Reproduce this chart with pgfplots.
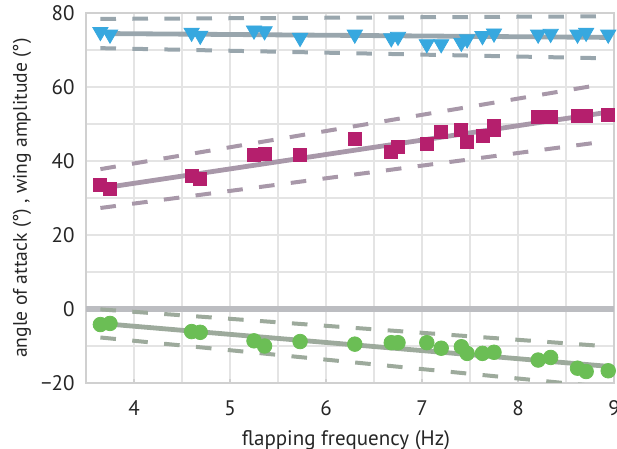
\documentclass[border=0pt]{standalone}
\usepackage{fontspec}
\setmainfont{PT Sans}
\usepackage{pgfplots}
\pgfplotsset{compat=1.18}

\definecolor{tri}{HTML}{37A8DF}
\definecolor{triline}{HTML}{99A6AD}
\definecolor{sq}{HTML}{B51F6D}
\definecolor{sqline}{HTML}{A898A9}
\definecolor{dot}{HTML}{6BBE55}
\definecolor{dotline}{HTML}{9DAA9C}
\definecolor{zeroline}{HTML}{BCBDC1}
\definecolor{gridc}{HTML}{E4E4E4}
\definecolor{framec}{HTML}{D0D0D0}

\begin{document}
\begin{tikzpicture}
\begin{axis}[
    at={(0,0)}, anchor=south west,
    scale only axis,
    width=264pt, height=185pt,
    xmin=3.5, xmax=9,
    ymin=-20, ymax=80,
    xtick={4,5,6,7,8,9},
    xticklabels={4,5,6,7,8,9},
    ytick={-20,0,20,40,60,80},
    yticklabels={−20,0,20,40,60,80},
    minor x tick num=1,
    minor y tick num=1,
    grid=both,
    major grid style={gridc, line width=0.7pt},
    minor grid style={gridc, line width=0.7pt},
    axis line style={framec, line width=0.7pt},
    tick align=inside,
    xtick pos=bottom,
    ytick pos=left,
    major tick length=2pt,
    minor tick length=0pt,
    tick style={framec, line width=0.7pt},
    ytick style={draw=none},
    ticklabel style={font=\fontsize{10.5}{12}\selectfont, text=black!85, inner sep=0pt},
    xticklabel style={anchor=base, yshift=-16.5pt},
    yticklabel style={anchor=east, xshift=-5.5pt},
    xlabel={flapping frequency (Hz)},
    ylabel={angle of attack (°) , wing amplitude (°)},
    xlabel style={font=\fontsize{10.5}{12}\selectfont, text=black!85,
        at={(axis description cs:0.5,0)}, anchor=center, yshift=-28.5pt, xshift=-2pt},
    ylabel style={font=\fontsize{9.8}{12}\selectfont, text=black!85,
        at={(axis description cs:-0.121,0.5)}, anchor=center},
]
% zero reference
\addplot[zeroline, line width=2.8pt] coordinates {(3.5,0) (9,0)};

% bounds (dashed)
\addplot[triline, line width=2pt, dash pattern=on 7.8pt off 8.2pt] coordinates {(3.65,78.4) (8.83,79.1)};
\addplot[triline, line width=2pt, dash pattern=on 7.8pt off 8.2pt] coordinates {(3.65,70.5) (8.83,67.8)};
\addplot[sqline, line width=2pt, dash pattern=on 7.8pt off 8.2pt] coordinates {(3.65,37.8) (8.83,60.5)};
\addplot[sqline, line width=2pt, dash pattern=on 7.8pt off 8.2pt] coordinates {(3.65,27.3) (8.83,45.0)};
\addplot[dotline, line width=2pt, dash pattern=on 7.8pt off 8.2pt] coordinates {(3.65,-0.1) (8.83,-9.9)};
\addplot[dotline, line width=2pt, dash pattern=on 7.8pt off 8.2pt] coordinates {(3.65,-7.7) (8.83,-20.9)};

% fits
\addplot[triline, line width=2.4pt] coordinates {(3.7,74.45) (8.94,73.4)};
\addplot[sqline, line width=2.4pt] coordinates {(3.7,32.8) (8.94,53.2)};
\addplot[dotline, line width=2.4pt] coordinates {(3.7,-4.0) (8.94,-15.5)};

% wing amplitude
\addplot[only marks, mark=triangle*, mark size=4.4pt, mark options={rotate=180, fill=tri, draw=tri}] coordinates {
    (3.65,74.9) (3.75,74.2) (4.60,74.7) (4.69,73.9) (5.25,75.3) (5.36,75.1)
    (5.73,73.3) (6.30,74.2) (6.68,73.2) (6.75,73.6) (7.05,71.6) (7.20,71.6)
    (7.41,72.0) (7.47,72.9) (7.63,73.8) (7.75,74.5) (8.21,74.2) (8.34,74.4)
    (8.62,74.2) (8.71,74.7) (8.94,74.2)
};
% angle of attack
\addplot[only marks, mark=square*, mark size=3.25pt, mark options={fill=sq, draw=sq}] coordinates {
    (3.65,33.5) (3.75,32.4) (4.60,35.9) (4.69,35.1) (5.25,41.6) (5.36,41.9)
    (5.73,41.6) (6.30,46.1) (6.68,42.5) (6.75,43.9) (7.05,44.5) (7.20,47.8)
    (7.41,48.4) (7.47,45.2) (7.63,46.8) (7.75,49.6) (7.75,48.4) (8.21,52.0)
    (8.34,51.8) (8.62,52.2) (8.71,52.2) (8.94,52.4)
};
% third angle
\addplot[only marks, mark=*, mark size=3.65pt, mark options={fill=dot, draw=dot}] coordinates {
    (3.65,-4.2) (3.75,-3.9) (4.60,-6.1) (4.69,-6.3) (5.25,-8.6) (5.36,-10.0)
    (5.73,-8.8) (6.30,-9.5) (6.68,-9.1) (6.75,-9.1) (7.05,-9.1) (7.20,-10.6)
    (7.41,-10.2) (7.47,-12.0) (7.63,-12.0) (7.75,-11.7) (8.21,-13.8) (8.34,-13.1)
    (8.62,-16.0) (8.71,-16.9) (8.94,-16.7)
};
\end{axis}
\pgfresetboundingbox
\useasboundingbox (-43pt,-33pt) rectangle (265.5pt,191.5pt);
\end{tikzpicture}
\end{document}
